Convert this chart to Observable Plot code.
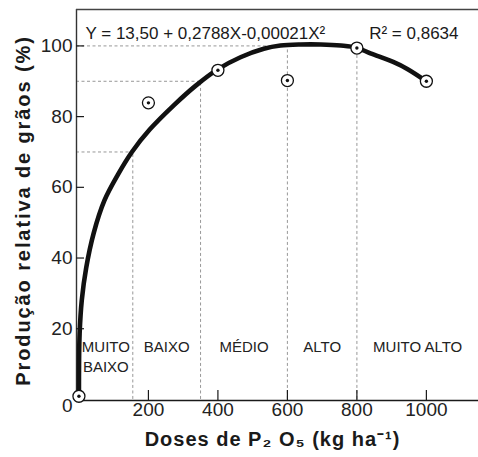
<!DOCTYPE html>
<html>
<head>
<meta charset="utf-8">
<script src="https://cdn.jsdelivr.net/npm/d3@7"></script>
<script src="https://cdn.jsdelivr.net/npm/@observablehq/plot@0.6"></script>
<style>
  html, body { margin: 0; padding: 0; background: #fff; }
  #chart svg { display: block; }
</style>
</head>
<body>
<div id="chart"></div>
<script>
// Observed relative grain yield (%) at each P2O5 dose (kg/ha)
const doses = [0, 200, 400, 600, 800, 1000];
const yields = [0.9, 83.9, 93.1, 90.2, 99.4, 90.0];

// Response curve, traced point by point
const curveDose = [0, 0.3, 2.0, 8.1, 21.0, 42.3, 73.4, 112.2, 152.5, 204.3, 275.1, 335.5, 398, 465, 532, 580, 638, 696, 754, 799, 839, 906, 945, 1000];
const curveYield = [1.4, 9.9, 18.7, 28.0, 37.3, 47.0, 56.3, 63.6, 70.0, 76.4, 83.4, 88.7, 93.3, 96.8, 99.2, 100.1, 100.4, 100.4, 100.1, 99.5, 97.9, 95.4, 93.5, 90.0];

// Interpretation classes and their dose limits
const classNames = ["MUITO\nBAIXO", "BAIXO", "MÉDIO", "ALTO", "MUITO ALTO"];
const classLimits = [0, 155, 350, 600, 800, 1150];

// Critical yield levels and the doses that reach them
const levelYield = [70, 90, 100];
const levelDose = [155, 350, 600];

const xTicks = [200, 400, 600, 800, 1000];
const yTicks = [20, 40, 60, 80, 100];

const equation = "Y = 13,50 + 0,2788X-0,00021X²";
const r2Text = "R² = 0,8634";
const xLabel = "Doses de P₂ O₅ (kg ha⁻¹)";
const yLabel = "Produção relativa de grãos (%)";

const obs = doses.map((d, i) => ({dose: d, yield: yields[i]}));
const curve = curveDose.map((d, i) => ({dose: d, yield: curveYield[i]}));
const classes = classNames.map((name, i) => ({name, mid: (classLimits[i] + classLimits[i + 1]) / 2}));
const levels = levelYield.map((y, i) => ({yield: y, dose: levelDose[i]}));
const topDose = doses[doses.length - 2];
const topYield = yields[yields.length - 2];

const xDomain = [-7, 1150];
const yDomain = [-0.3, 110.3];
const ink = "#1a1a1a";
const dash = {stroke: "#8c8c8c", strokeWidth: 0.9, strokeDasharray: "3,2.5"};

const chart = Plot.plot({
  width: 478,
  height: 457,
  marginTop: 9,
  marginBottom: 57,
  marginLeft: 76,
  marginRight: 0,
  style: {fontFamily: "'Liberation Sans', Arial, sans-serif", color: ink, background: "#fff"},
  x: {domain: xDomain},
  y: {domain: yDomain},
  marks: [
    // dashed guides for the class limits
    Plot.ruleY(levels, {y: "yield", x1: xDomain[0], x2: "dose", ...dash}),
    Plot.ruleX(levels, {x: "dose", y1: 0, y2: "yield", ...dash}),
    Plot.ruleX([topDose], {x: d => d, y1: 0, y2: topYield, ...dash}),

    // frame: left, top and bottom lines
    Plot.ruleX([xDomain[0]], {stroke: "#333", strokeWidth: 1.4}),
    Plot.ruleY([yDomain[1]], {stroke: "#444", strokeWidth: 1.4}),
    Plot.ruleY([yDomain[0]], {stroke: ink, strokeWidth: 1.4}),

    // inward tick marks
    Plot.axisX({ticks: xTicks, tickSize: 10, dy: -10, fill: "none", stroke: ink, strokeWidth: 1.2, label: null}),
    Plot.axisY({ticks: yTicks, tickSize: 8, dx: 8, fill: "none", stroke: ink, strokeWidth: 1.2, label: null}),

    // tick labels
    Plot.axisX({ticks: xTicks, tickSize: 0, tickPadding: 2, tickFormat: "d", fontSize: 19, fill: "#222", label: null}),
    Plot.axisY({ticks: yTicks, tickSize: 0, tickPadding: 4, tickFormat: "d", fontSize: 19, fill: "#222", label: null}),
    Plot.axisY({ticks: [0], tickSize: 0, tickPadding: 4, dy: 6, tickFormat: "d", fontSize: 19, fill: "#222", label: null}),

    // class names
    Plot.text(classes, {x: "mid", y: 17.3, text: "name", lineAnchor: "top", lineHeight: 1.33, fontSize: 15, fill: "#222"}),

    // response curve
    Plot.line(curve, {x: "dose", y: "yield", curve: "catmull-rom", stroke: "#111", strokeWidth: 4.6, strokeLinecap: "round"}),

    // observations
    Plot.dot(obs, {x: "dose", y: "yield", r: 6, fill: "#fff", stroke: "#111", strokeWidth: 1.3}),
    Plot.dot(obs, {x: "dose", y: "yield", r: 1.7, fill: "#111"}),

    // fitted equation and R²
    Plot.text([equation], {frameAnchor: "top-left", dx: 9, dy: 17, textAnchor: "start", fontSize: 17, fill: ink}),
    Plot.text([r2Text], {frameAnchor: "top-right", dx: -20, dy: 17, textAnchor: "end", fontSize: 17, fill: ink}),

    // axis titles
    Plot.text([xLabel], {frameAnchor: "bottom", dx: -5, dy: 45, textAnchor: "middle", fontSize: 20, fontWeight: "bold", fill: ink}),
    Plot.text([yLabel], {frameAnchor: "left", dx: -53, dy: 5.5, rotate: -90, textAnchor: "middle", fontSize: 20, fontWeight: "bold", fill: ink})
  ]
});

chart.querySelectorAll("text").forEach(t => {
  if (t.textContent === yLabel) t.style.letterSpacing = "1.9px";
  if (t.textContent === xLabel) t.style.letterSpacing = "1px";
});

document.getElementById("chart").appendChild(chart);
</script>
</body>
</html>
